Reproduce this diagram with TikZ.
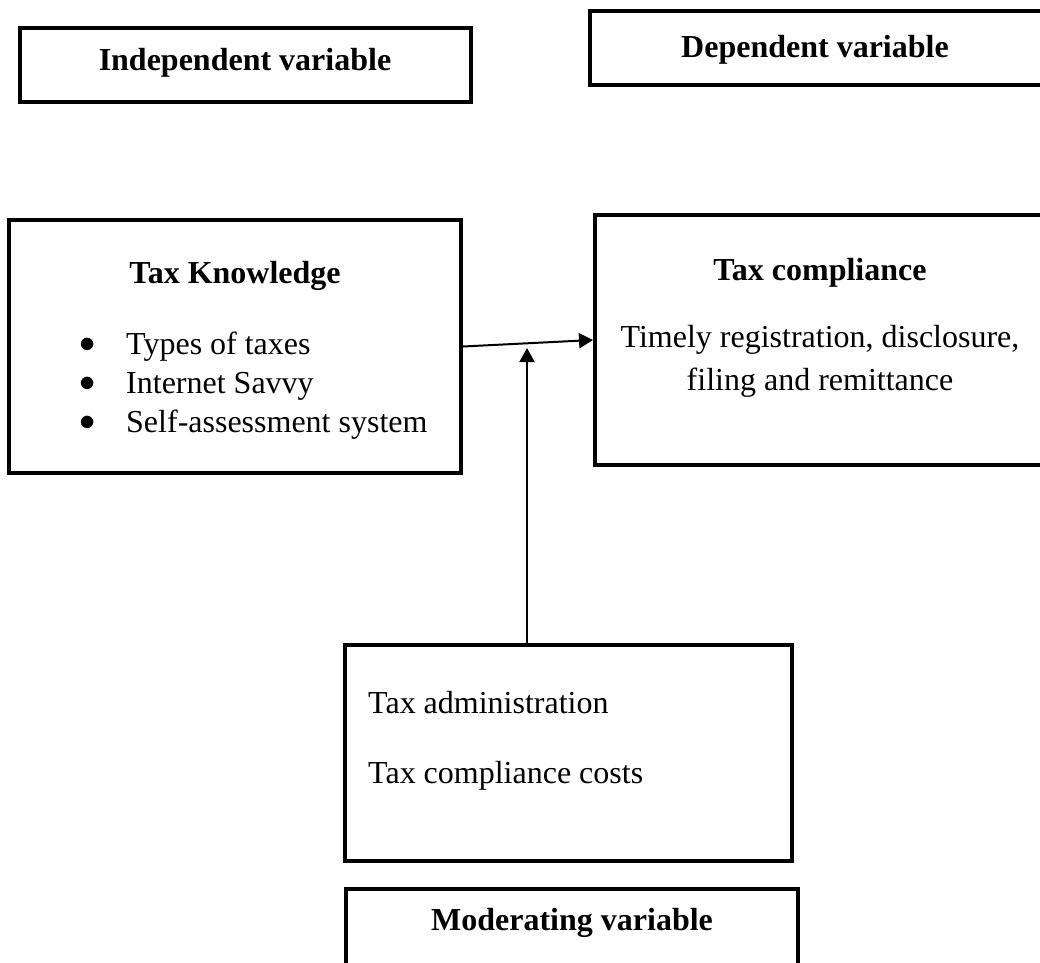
\documentclass[tikz,border=0pt]{standalone}
\usepackage{fontspec}
\setmainfont{Liberation Serif}
\usetikzlibrary{arrows.meta}

\tikzset{
  varbox/.style={draw, line width=4pt, rectangle, inner sep=0pt},
  flow/.style={line width=2pt, -{Triangle[length=14pt,width=15pt]}},
  txt/.style={inner sep=0pt, anchor=base west},
}
\newcommand{\boxtextsize}{\fontsize{32}{39}\selectfont}
\newcommand{\itemdot}{\makebox[46.5pt][l]{\raisebox{1.5pt}{\scalebox{1.3}{$\bullet$}}}}

\begin{document}
\begin{tikzpicture}[x=1pt,y=-1pt,font=\boxtextsize]
        \useasboundingbox (0,0) rectangle (1040,962);

        % boxes
        \node[varbox, minimum width=451pt, minimum height=74pt] (indep) at (245.5,65) {};
        \node[varbox, minimum width=454pt, minimum height=74pt] (dep) at (817,48) {};
        \node[varbox, minimum width=452pt, minimum height=253pt] (know) at (235,346.5) {};
        \node[varbox, minimum width=453pt, minimum height=250pt] (comp) at (821.5,340) {};
        \node[varbox, minimum width=447pt, minimum height=216pt] (modbox) at (568.5,753) {};
        \node[varbox, minimum width=452pt, minimum height=100pt] (modlab) at (572,939) {};

        % texts
        \node[txt, anchor=base] (indeptitle) at (245,70) {\textbf{Independent variable}};
        \node[txt, anchor=base] (deptitle) at (815,57) {\textbf{Dependent variable}};
        \node[txt, anchor=base] (knowtitle) at (235,283) {\textbf{Tax Knowledge}};
        \node[txt] (knowa) at (79.5,354) {\itemdot Types of taxes};
        \node[txt] (knowb) at (79.5,393) {\itemdot Internet Savvy};
        \node[txt] (knowc) at (79.5,432) {\itemdot Self-assessment system};
        \node[txt, anchor=base] (comptitle) at (820,280) {\textbf{Tax compliance}};
        \node[txt, anchor=base] (compa) at (820,347) {Timely registration, disclosure,};
        \node[txt, anchor=base] (compb) at (820,390) {filing and remittance};
        \node[txt] (moda) at (368,713) {Tax administration};
        \node[txt] (modb) at (368,783) {Tax compliance costs};
        \node[txt, anchor=base] (modtitle) at (572,930) {\textbf{Moderating variable}};

        %% arrows
        \coordinate (tip) at (527,348);
        \draw[flow] (know.east) -- (comp.west);
        \draw[flow] (tip |- modbox.north) -- (tip);
\end{tikzpicture}
\end{document}
